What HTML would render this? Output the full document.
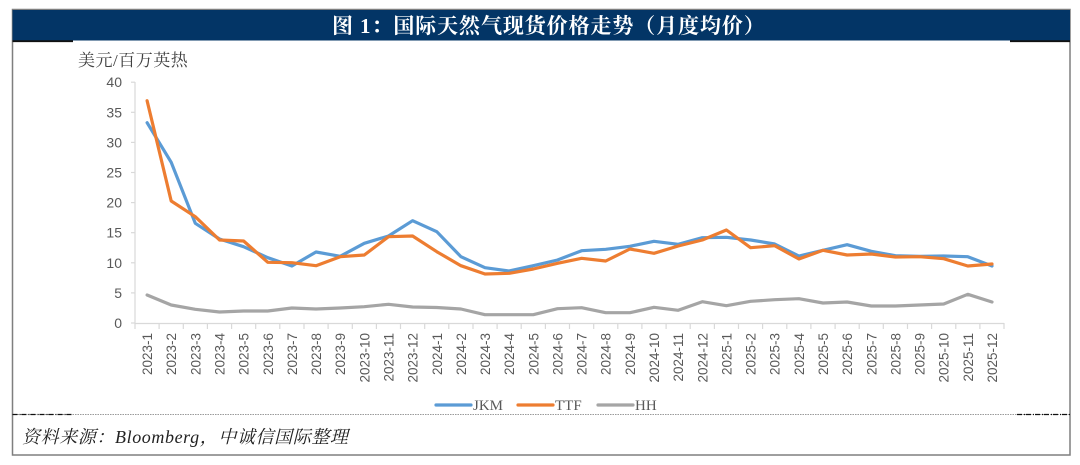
<!DOCTYPE html>
<html>
<head>
<meta charset="utf-8">
<style>
html,body{margin:0;padding:0;background:#fff;}
svg{display:block;}
</style>
</head>
<body>
<svg width="1080" height="465" viewBox="0 0 1080 465" xmlns="http://www.w3.org/2000/svg">
  <rect x="0" y="0" width="1080" height="465" fill="#fff"/>
  <!-- frame -->
  <rect x="12.5" y="9.5" width="1057.5" height="445.5" fill="none" stroke="#7f7f7f" stroke-width="1.5"/>
  <!-- title bar -->
  <rect x="12.5" y="10" width="1057.5" height="30.5" fill="#033566"/>
  <line x1="12.5" y1="41.2" x2="73" y2="41.2" stroke="#111" stroke-width="1.8"/>
  <line x1="1010" y1="41.2" x2="1070" y2="41.2" stroke="#111" stroke-width="1.8"/>
  <text x="332" y="33" fill="#fff" font-family="'Liberation Serif','Noto Serif CJK SC',serif" font-weight="bold" font-size="21" letter-spacing="0.9">图 1：国际天然气现货价格走势（月度均价）</text>

  <!-- y axis label -->
  <text x="78" y="66" fill="#404040" font-family="'Liberation Serif','Noto Serif CJK SC',serif" font-size="17" letter-spacing="0.5">美元/百万英热</text>

  <!-- axes -->
  <g stroke="#d9d9d9" stroke-width="1.2" fill="none">
    <line x1="135" y1="82" x2="135" y2="323.5"/>
    <line x1="135" y1="323.5" x2="1004" y2="323.5"/>
    <line x1="131" y1="323" x2="135" y2="323"/>
    <line x1="131" y1="292.9" x2="135" y2="292.9"/>
    <line x1="131" y1="262.8" x2="135" y2="262.8"/>
    <line x1="131" y1="232.7" x2="135" y2="232.7"/>
    <line x1="131" y1="202.6" x2="135" y2="202.6"/>
    <line x1="131" y1="172.5" x2="135" y2="172.5"/>
    <line x1="131" y1="142.4" x2="135" y2="142.4"/>
    <line x1="131" y1="112.3" x2="135" y2="112.3"/>
    <line x1="131" y1="82.2" x2="135" y2="82.2"/>
    <path d="M135 323v6 M159.1 323v6 M183.3 323v6 M207.4 323v6 M231.6 323v6 M255.7 323v6 M279.8 323v6 M304 323v6 M328.1 323v6 M352.3 323v6 M376.4 323v6 M400.5 323v6 M424.7 323v6 M448.8 323v6 M473 323v6 M497.1 323v6 M521.2 323v6 M545.4 323v6 M569.5 323v6 M593.7 323v6 M617.8 323v6 M641.9 323v6 M666.1 323v6 M690.2 323v6 M714.4 323v6 M738.5 323v6 M762.6 323v6 M786.8 323v6 M810.9 323v6 M835.1 323v6 M859.2 323v6 M883.3 323v6 M907.5 323v6 M931.6 323v6 M955.8 323v6 M979.9 323v6 M1004 323v6"/>
  </g>

  <!-- y tick labels -->
  <g fill="#595959" font-family="'Liberation Sans',sans-serif" font-size="14" text-anchor="end">
    <text x="122" y="328">0</text>
    <text x="122" y="297.9">5</text>
    <text x="122" y="267.8">10</text>
    <text x="122" y="237.7">15</text>
    <text x="122" y="207.6">20</text>
    <text x="122" y="177.5">25</text>
    <text x="122" y="147.4">30</text>
    <text x="122" y="117.3">35</text>
    <text x="122" y="87.2">40</text>
  </g>

  <!-- x labels -->
  <g fill="#595959" font-family="'Liberation Sans',sans-serif" font-size="13.5" text-anchor="end">
    <text transform="translate(152.1,333) rotate(-90)">2023-1</text>
    <text transform="translate(176.2,333) rotate(-90)">2023-2</text>
    <text transform="translate(200.3,333) rotate(-90)">2023-3</text>
    <text transform="translate(224.5,333) rotate(-90)">2023-4</text>
    <text transform="translate(248.6,333) rotate(-90)">2023-5</text>
    <text transform="translate(272.8,333) rotate(-90)">2023-6</text>
    <text transform="translate(296.9,333) rotate(-90)">2023-7</text>
    <text transform="translate(321,333) rotate(-90)">2023-8</text>
    <text transform="translate(345.2,333) rotate(-90)">2023-9</text>
    <text transform="translate(369.3,333) rotate(-90)">2023-10</text>
    <text transform="translate(393.5,333) rotate(-90)">2023-11</text>
    <text transform="translate(417.6,333) rotate(-90)">2023-12</text>
    <text transform="translate(441.8,333) rotate(-90)">2024-1</text>
    <text transform="translate(465.9,333) rotate(-90)">2024-2</text>
    <text transform="translate(490,333) rotate(-90)">2024-3</text>
    <text transform="translate(514.2,333) rotate(-90)">2024-4</text>
    <text transform="translate(538.3,333) rotate(-90)">2024-5</text>
    <text transform="translate(562.5,333) rotate(-90)">2024-6</text>
    <text transform="translate(586.6,333) rotate(-90)">2024-7</text>
    <text transform="translate(610.7,333) rotate(-90)">2024-8</text>
    <text transform="translate(634.9,333) rotate(-90)">2024-9</text>
    <text transform="translate(659,333) rotate(-90)">2024-10</text>
    <text transform="translate(683.2,333) rotate(-90)">2024-11</text>
    <text transform="translate(707.3,333) rotate(-90)">2024-12</text>
    <text transform="translate(731.4,333) rotate(-90)">2025-1</text>
    <text transform="translate(755.6,333) rotate(-90)">2025-2</text>
    <text transform="translate(779.7,333) rotate(-90)">2025-3</text>
    <text transform="translate(803.9,333) rotate(-90)">2025-4</text>
    <text transform="translate(828,333) rotate(-90)">2025-5</text>
    <text transform="translate(852.1,333) rotate(-90)">2025-6</text>
    <text transform="translate(876.3,333) rotate(-90)">2025-7</text>
    <text transform="translate(900.4,333) rotate(-90)">2025-8</text>
    <text transform="translate(924.6,333) rotate(-90)">2025-9</text>
    <text transform="translate(948.7,333) rotate(-90)">2025-10</text>
    <text transform="translate(972.8,333) rotate(-90)">2025-11</text>
    <text transform="translate(997,333) rotate(-90)">2025-12</text>
  </g>

  <!-- series -->
  <g fill="none" stroke-width="3.2" stroke-linejoin="round" stroke-linecap="round">
    <polyline stroke="#a5a5a5" points="147.1,295 171.2,305 195.3,309.3 219.5,312 243.6,311 267.8,311 291.9,308 316,309 340.2,308 364.3,306.7 388.5,304.3 412.6,307 436.8,307.5 460.9,309 485,314.7 509.2,314.7 533.3,314.7 557.5,308.7 581.6,307.7 605.7,312.7 629.9,312.7 654,307.3 678.2,310.3 702.3,301.7 726.4,305.7 750.6,301.3 774.7,299.7 798.9,298.7 823,303 847.1,302 871.3,306 895.4,306 919.6,305 943.7,304 967.8,294.3 992,302"/>
    <polyline stroke="#5b9bd5" points="147.1,122.7 171.2,162.3 195.3,223.3 219.5,239 243.6,246.7 267.8,257.7 291.9,266 316,252 340.2,256.3 364.3,243.3 388.5,236 412.6,220.7 436.8,231.7 460.9,256.7 485,267.7 509.2,271 533.3,265.7 557.5,260 581.6,250.7 605.7,249.3 629.9,246.3 654,241.3 678.2,244.3 702.3,237.7 726.4,237.3 750.6,240 774.7,244 798.9,256 823,250.3 847.1,244.7 871.3,251.3 895.4,255.7 919.6,256.3 943.7,256 967.8,256.7 992,266"/>
    <polyline stroke="#ed7d31" points="147.1,100.7 171.2,201 195.3,216.7 219.5,240 243.6,241 267.8,262.3 291.9,262.7 316,265.7 340.2,256.7 364.3,255 388.5,236.7 412.6,236 436.8,251.7 460.9,265.7 485,274 509.2,273.3 533.3,269 557.5,263.3 581.6,258.3 605.7,261 629.9,249 654,253.3 678.2,246 702.3,240 726.4,230 750.6,247.7 774.7,245.7 798.9,259 823,250.3 847.1,255 871.3,254 895.4,257 919.6,256.7 943.7,258.7 967.8,266 992,264"/>
  </g>

  <!-- legend -->
  <g stroke-width="3.2" stroke-linecap="round">
    <line x1="436" y1="405" x2="471" y2="405" stroke="#5b9bd5"/>
    <line x1="518" y1="405" x2="553" y2="405" stroke="#ed7d31"/>
    <line x1="598" y1="405" x2="633" y2="405" stroke="#a5a5a5"/>
  </g>
  <g fill="#595959" font-family="'Liberation Serif',serif" font-size="15">
    <text x="473" y="410">JKM</text>
    <text x="555" y="410">TTF</text>
    <text x="635" y="410">HH</text>
  </g>

  <!-- separator dotted line -->
  <line x1="12.5" y1="414.5" x2="1070" y2="414.5" stroke="#9a9a9a" stroke-width="1" stroke-dasharray="1.5,1"/>
  <line x1="12.5" y1="414.5" x2="72" y2="414.5" stroke="#111" stroke-width="1.2" stroke-dasharray="5,2,1,1"/>
  <line x1="1017" y1="414.5" x2="1070" y2="414.5" stroke="#111" stroke-width="1.2" stroke-dasharray="5,2,1,1"/>

  <!-- source -->
  <text x="22" y="443" fill="#222" font-family="'Liberation Serif','Noto Serif CJK SC',serif" font-style="italic" font-size="18" letter-spacing="0.6">资料来源：Bloomberg，中诚信国际整理</text>
</svg>
</body>
</html>
